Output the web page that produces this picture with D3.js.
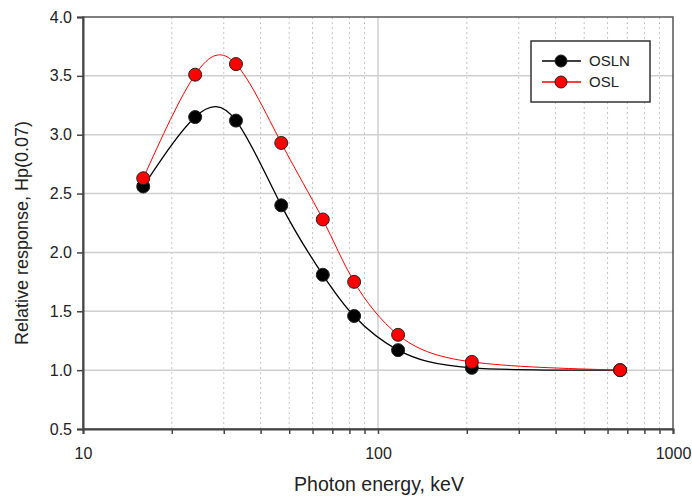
<!DOCTYPE html>
<meta charset="utf-8">
<style>
  body { margin: 0; background: #fff; }
  text { font-family: "Liberation Sans", Arial, sans-serif; fill: #222; }
  .grid-major line { stroke: #cfcfcf; stroke-width: 1.5px; }
  .grid-minor line { stroke: #c4c4c4; stroke-width: 1px; stroke-dasharray: 2,3; }
</style>
<svg width="692" height="498"></svg>
<script src="https://d3js.org/d3.v7.min.js"></script>
<script>
  // data
  var energy = [16, 24, 33, 47, 65, 83, 117, 208, 662];
  var osln = [2.56, 3.15, 3.12, 2.40, 1.81, 1.46, 1.17, 1.02, 1.00];
  var osl = [2.63, 3.51, 3.60, 2.93, 2.28, 1.75, 1.30, 1.07, 1.00];
  var yTicks = [0.5, 1.0, 1.5, 2.0, 2.5, 3.0, 3.5, 4.0];
  var xMajor = [10, 100, 1000];

  var series = [
    { name: "OSLN", values: osln, color: "#000", width: 1.3 },
    { name: "OSL", values: osl, color: "#f00", width: 1 }
  ];

  var svg = d3.select("svg");
  var margin = { top: 17, right: 19, bottom: 69, left: 83 },
    width = +svg.attr("width") - margin.left - margin.right,
    height = +svg.attr("height") - margin.top - margin.bottom;

  var x = d3.scaleLog().domain([10, 1000]).range([0, width]);
  var y = d3.scaleLinear().domain([0.5, 4.0]).range([height, 0]);

  var g = svg.append("g")
    .attr("transform", "translate(" + margin.left + "," + margin.top + ")");

  // minor log ticks 20..90, 200..900
  var xMinor = [];
  [10, 100].forEach(function (d) {
    for (var k = 2; k <= 9; k++) xMinor.push(d * k);
  });

  g.append("g").attr("class", "grid-minor")
    .selectAll("line").data(xMinor).enter().append("line")
    .attr("x1", function (d) { return x(d); })
    .attr("x2", function (d) { return x(d); })
    .attr("y1", 0).attr("y2", height);

  g.append("g").attr("class", "grid-major")
    .selectAll("line").data([100]).enter().append("line")
    .attr("x1", function (d) { return x(d); })
    .attr("x2", function (d) { return x(d); })
    .attr("y1", 0).attr("y2", height);

  g.append("g").attr("class", "grid-major")
    .selectAll("line").data(yTicks.slice(1, -1)).enter().append("line")
    .attr("x1", 0).attr("x2", width)
    .attr("y1", function (d) { return y(d); })
    .attr("y2", function (d) { return y(d); });

  // frame
  g.append("rect")
    .attr("width", width).attr("height", height)
    .attr("fill", "none").attr("stroke", "#555").attr("stroke-width", 1.5);

  // axes
  var xAxis = g.append("g")
    .attr("transform", "translate(0," + height + ")")
    .call(d3.axisBottom(x).tickValues(xMajor.concat(xMinor))
      .tickSize(5).tickPadding(14)
      .tickFormat(function (d) { return xMajor.indexOf(d) >= 0 ? d : ""; }));
  var yAxis = g.append("g")
    .call(d3.axisLeft(y).tickValues(yTicks).tickSize(6).tickPadding(5)
      .tickFormat(d3.format(".1f")));

  [xAxis, yAxis].forEach(function (a) {
    a.select(".domain").attr("stroke", "#444").attr("stroke-width", 2);
    a.selectAll(".tick line").attr("stroke", "#444").attr("stroke-width", 1.5);
    a.selectAll(".tick text").style("font-size", "16px")
      .style("font-family", "'Liberation Sans', Arial, sans-serif").attr("fill", "#222");
  });

  // curves
  var line = d3.line()
    .x(function (d) { return x(d[0]); })
    .y(function (d) { return y(d[1]); })
    .curve(d3.curveNatural);

  series.forEach(function (s) {
    var pts = energy.map(function (e, i) { return [e, s.values[i]]; });
    g.append("path")
      .datum(pts)
      .attr("fill", "none")
      .attr("stroke", s.color)
      .attr("stroke-width", s.width)
      .attr("d", line);
  });

  series.forEach(function (s) {
    g.append("g").selectAll("circle")
      .data(energy.map(function (e, i) { return [e, s.values[i]]; }))
      .enter().append("circle")
      .attr("cx", function (d) { return x(d[0]); })
      .attr("cy", function (d) { return y(d[1]); })
      .attr("r", 6.5)
      .attr("fill", s.color)
      .attr("stroke", "#222")
      .attr("stroke-width", 1);
  });

  // legend
  var legend = svg.append("g").attr("transform", "translate(531,41)");
  legend.append("rect")
    .attr("width", 119).attr("height", 61)
    .attr("fill", "#fff").attr("stroke", "#333").attr("stroke-width", 1.5);
  series.forEach(function (s, i) {
    var row = legend.append("g").attr("transform", "translate(0," + (20 + i * 21) + ")");
    row.append("line").attr("x1", 11).attr("x2", 50)
      .attr("stroke", s.color).attr("stroke-width", 1.3);
    row.append("circle").attr("cx", 30).attr("r", 6)
      .attr("fill", s.color).attr("stroke", "#222");
    row.append("text").attr("x", 58).attr("dy", "0.36em")
      .style("font-size", "15px").text(s.name);
  });

  // axis titles
  svg.append("text")
    .attr("x", 379).attr("y", 491)
    .attr("text-anchor", "middle")
    .style("font-size", "19.5px")
    .text("Photon energy, keV");

  svg.append("text")
    .attr("transform", "translate(28," + (margin.top + height / 2 + 10) + ") rotate(-90)")
    .attr("text-anchor", "middle")
    .style("font-size", "18px")
    .text("Relative response, Hp(0.07)");
</script>
